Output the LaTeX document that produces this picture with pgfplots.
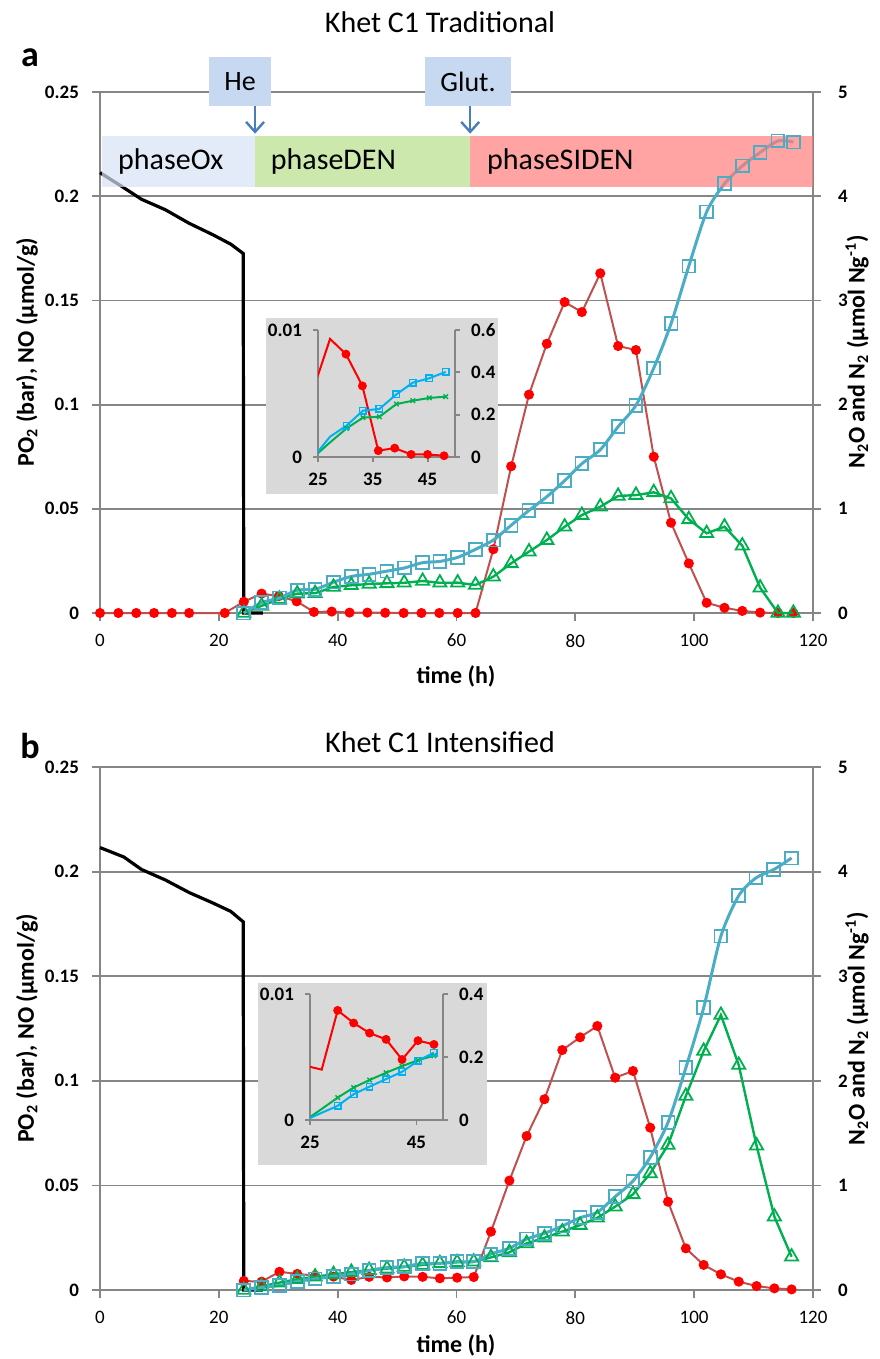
\documentclass[border=0pt]{standalone}
\usepackage{pgfplots}
\pgfplotsset{compat=1.18}
\usepackage{fontspec}
\setmainfont{Carlito}
\usetikzlibrary{arrows.meta}
\definecolor{axgray}{HTML}{868686}
\definecolor{redline}{HTML}{C0504D}
\definecolor{redmark}{HTML}{FF0000}
\definecolor{blueS}{HTML}{4BACC6}
\definecolor{greenT}{HTML}{00B050}
\definecolor{inblue}{HTML}{00B0F0}
\definecolor{ingray}{HTML}{D9D9D9}
\definecolor{boxblue}{HTML}{C6D9F1}
\definecolor{arrowblue}{HTML}{4A7EBB}
\definecolor{oxc}{RGB}{216,226,245}
\definecolor{denc}{RGB}{182,222,138}
\definecolor{sidenc}{RGB}{255,124,124}

\pgfplotsset{
  base/.style={scale only axis, clip=false, tick align=outside,
    scaled ticks=false,
    axis line style={-, axgray, line width=0.9pt},
    tick style={axgray, line width=0.9pt}, major tick length=4pt,
    ticklabel style={font=\fontsize{9.5}{10}\selectfont}},
  leftax/.style={base, axis x line*=bottom, axis y line*=left,
    ymajorgrids, grid style={axgray, line width=0.9pt},
    yticklabel style={font=\bfseries\fontsize{9.5}{10}\selectfont, xshift=-3pt},
    xticklabel style={yshift=-3pt},
    xmin=0, xmax=120, ymin=0, ymax=0.25,
    xtick={0,20,40,60,80,100,120}, xticklabels={0,20,40,60,80,100,120},
    ytick={0,0.05,0.1,0.15,0.2,0.25}, yticklabels={0,0.05,0.1,0.15,0.2,0.25}},
  rightax/.style={base, axis y line*=right, axis x line=none,
    yticklabel style={font=\bfseries\fontsize{9.5}{10}\selectfont, xshift=5pt},
    xmin=0, xmax=120, ymin=0, ymax=5, xtick=\empty,
    ytick={0,1,2,3,4,5}, yticklabels={0,1,2,3,4,5}},
  inleft/.style={base, clip=true, axis x line*=bottom, axis y line*=left,
    major tick length=2.5pt,
    ticklabel style={font=\bfseries\fontsize{9.5}{10}\selectfont},
    xticklabel style={yshift=-2pt}, yticklabel style={xshift=-2pt},
    xmin=25, xmax=50, ymin=0, ymax=0.01, ytick={0,0.01}, yticklabels={0,0.01}},
  inright/.style={base, clip=true, axis y line*=right, axis x line=none,
    major tick length=2.5pt,
    yticklabel style={font=\bfseries\fontsize{9.5}{10}\selectfont, xshift=2pt},
    xmin=25, xmax=50, ymin=0, xtick=\empty},
  redS/.style={redline, line width=1pt, mark=*, mark size=2pt, mark options={draw=redmark, fill=redmark}},
  blueL/.style={blueS, line width=1.5pt, smooth, tension=0.45, mark=square, mark size=3.2pt, mark options={blueS, line width=0.9pt, fill=none}},
  greenL/.style={greenT, line width=1.2pt, mark=triangle, mark size=3.8pt, mark options={greenT, line width=0.9pt, fill=none}},
  blackL/.style={black, line width=1.6pt, mark=none},
  inredS/.style={redmark, line width=1pt, mark=*, mark size=1.7pt, mark options={fill=redmark}},
  inblueS/.style={inblue, line width=1pt, mark=square, mark size=1.6pt, mark options={line width=0.7pt}},
  ingreenS/.style={greenT, line width=1pt, mark=x, mark size=1.6pt, mark options={line width=0.7pt}},
}

\begin{document}
\begin{tikzpicture}
\useasboundingbox (0,0) rectangle (439.5pt,-679.5pt);

% ================= PANEL A =================
\begin{axis}[leftax, at={(50pt,-306.5pt)}, anchor=south west, width=356.5pt, height=260.5pt]
\addplot[redS] coordinates {(0,0) (3.1,0) (6.1,0) (9.1,0) (12.1,0) (15,0) (21,0) (24.2,0.0054) (27.2,0.0093) (30.1,0.0081) (33.1,0.0056) (36,0.0005) (39,0.0007) (42,0.0002) (45,0.0002) (48,0.0001) (51.1,0) (54.1,0) (57.1,0) (60.2,0) (63.2,0) (66.2,0.0306) (69.2,0.0704) (72.2,0.1048) (75.2,0.1292) (78.2,0.1492) (81.1,0.1444) (84.2,0.163) (87.2,0.1281) (90.2,0.1262) (93.2,0.075) (96.1,0.0433) (99.1,0.0238) (102.1,0.0049) (105.1,0.0025) (108.1,0.001) (111.1,0.0002) (114.1,0) (116.7,0)};
\addplot[blackL] coordinates {(0,0.2113) (3.5,0.205) (7,0.1985) (11,0.1935) (15,0.187) (19,0.1815) (22,0.177) (24.1,0.1725) (24.2,0) (27.4,0)};
\end{axis}
\begin{axis}[rightax, at={(50pt,-306.5pt)}, anchor=south west, width=356.5pt, height=260.5pt]
\addplot[greenL] coordinates {(24.2,0) (27.2,0.069) (30.2,0.135) (33.2,0.186) (36.2,0.19) (39.3,0.25) (42.3,0.266) (45.3,0.279) (48.3,0.285) (51.2,0.29) (54.3,0.307) (57.2,0.29) (60.2,0.291) (63.2,0.269) (66.2,0.349) (69.2,0.477) (72.2,0.589) (75.2,0.70) (78.2,0.828) (81.1,0.94) (84.2,1.02) (87.2,1.123) (90.2,1.132) (93.2,1.158) (96.1,1.10) (99.1,0.899) (102.1,0.765) (105.1,0.828) (108.1,0.646) (111.1,0.243) (114.1,0) (116.7,0)};
\addplot[blueL] coordinates {(24.2,0) (27.2,0.10) (30.2,0.145) (33.2,0.219) (36.2,0.227) (39.3,0.296) (42.3,0.351) (45.3,0.372) (48.3,0.402) (51.2,0.432) (54.3,0.483) (57.2,0.495) (60.2,0.534) (63.2,0.611) (66.2,0.70) (69.2,0.842) (72.2,0.985) (75.2,1.116) (78.2,1.27) (81.1,1.433) (84.2,1.567) (87.2,1.788) (90.2,1.993) (93.2,2.351) (96.1,2.776) (99.1,3.33) (102.1,3.85) (105.1,4.12) (108.1,4.29) (111.1,4.42) (114.1,4.53) (116.7,4.52)};
% phase bars (semi-transparent overlay)
\fill[oxc, fill opacity=0.7] (axis cs:0.3,4.088) rectangle (axis cs:26.1,4.578);
\fill[denc, fill opacity=0.7] (axis cs:26.1,4.088) rectangle (axis cs:62.3,4.578);
\fill[sidenc, fill opacity=0.7] (axis cs:62.3,4.088) rectangle (axis cs:120,4.578);
\node[anchor=west, inner sep=0pt, font=\fontsize{15}{17}\selectfont] at (axis cs:3.0,4.333) {phaseOx};
\node[anchor=west, inner sep=0pt, font=\fontsize{15}{17}\selectfont] at (axis cs:28.7,4.333) {phaseDEN};
\node[anchor=west, inner sep=0pt, font=\fontsize{15}{17}\selectfont] at (axis cs:65.1,4.333) {phaseSIDEN};
% annotation boxes
\fill[boxblue] (axis cs:18.35,4.866) rectangle (axis cs:28.8,5.336);
\node[font=\fontsize{14}{16}\selectfont] at (axis cs:23.57,5.10) {He};
\fill[boxblue] (axis cs:54.7,4.866) rectangle (axis cs:69.2,5.336);
\node[font=\fontsize{14}{16}\selectfont] at (axis cs:61.95,5.10) {Glut.};
\draw[arrowblue, line width=1.2pt, -{Straight Barb[length=5pt,width=9pt]}] (axis cs:26.1,4.866) -- (axis cs:26.1,4.6);
\draw[arrowblue, line width=1.2pt, -{Straight Barb[length=5pt,width=9pt]}] (axis cs:62.3,4.866) -- (axis cs:62.3,4.6);
\end{axis}

% inset a
\fill[ingray] (133pt,-159pt) rectangle (249pt,-247pt);
\begin{axis}[inleft, at={(159pt,-228.5pt)}, anchor=south west, width=68.5pt, height=63.5pt,
  xtick={25,35,45}, xticklabels={25,35,45}]
\addplot[inredS, mark indices={2,3,4,5,6,7,8,9}] coordinates {(24.2,0.0054) (27.2,0.0093) (30.1,0.0081) (33.1,0.0056) (36,0.0005) (39,0.0007) (42,0.0002) (45,0.0002) (48,0.0001)};
\end{axis}
\begin{axis}[inright, at={(159pt,-228.5pt)}, anchor=south west, width=68.5pt, height=63.5pt,
  ymax=0.6, ytick={0,0.2,0.4,0.6}, yticklabels={0,0.2,0.4,0.6}]
\addplot[ingreenS, mark indices={2,3,4,5,6,7,8,9}] coordinates {(24.2,0) (27.2,0.069) (30.2,0.135) (33.2,0.186) (36.2,0.19) (39.3,0.25) (42.3,0.266) (45.3,0.279) (48.3,0.285)};
\addplot[inblueS, mark indices={2,3,4,5,6,7,8,9}] coordinates {(24.2,0) (27.2,0.096) (30.2,0.148) (33.2,0.219) (36.2,0.227) (39.3,0.296) (42.3,0.351) (45.3,0.372) (48.3,0.402)};
\end{axis}

% labels panel a
\node[font=\fontsize{15}{17}\selectfont] at (220pt,-11pt) {Khet C1 Traditional};
\node[font=\bfseries\fontsize{18}{20}\selectfont] at (15pt,-29pt) {a};
\node[rotate=90, font=\bfseries\fontsize{12}{14}\selectfont] at (13.5pt,-176pt) {PO\textsubscript{2} (bar), NO (µmol/g)};
\node[rotate=90, font=\bfseries\fontsize{12}{14}\selectfont] at (428.5pt,-176pt) {N\textsubscript{2}O and N\textsubscript{2} (µmol Ng\textsuperscript{-1})};
\node[font=\bfseries\fontsize{12}{14}\selectfont] at (228pt,-338pt) {time (h)};

% ================= PANEL B =================
\begin{axis}[leftax, at={(50pt,-645pt)}, anchor=south west, width=356.5pt, height=261.5pt]
\addplot[redS] coordinates {(24.2,0.0043) (27.2,0.0040) (30.2,0.0087) (33.2,0.0077) (36.2,0.0069) (39.3,0.0064) (42.3,0.0048) (45.3,0.0063) (48.3,0.0060) (51.2,0.0065) (54.3,0.0063) (57.2,0.0056) (60.1,0.0059) (62.9,0.0062) (65.8,0.0279) (68.9,0.0523) (71.8,0.0736) (74.8,0.0912) (77.8,0.1147) (80.8,0.1208) (83.7,0.1262) (86.7,0.1015) (89.7,0.1047) (92.6,0.0776) (95.6,0.0422) (98.6,0.0199) (101.6,0.012) (104.5,0.0075) (107.5,0.004) (110.5,0.0019) (113.5,0.0008) (116.4,0.0003)};
\addplot[blackL] coordinates {(0,0.2115) (4,0.207) (7,0.201) (11,0.196) (15,0.19) (19,0.185) (22,0.181) (24.1,0.176) (24.2,0) (27.4,0)};
\end{axis}
\begin{axis}[rightax, at={(50pt,-645pt)}, anchor=south west, width=356.5pt, height=261.5pt]
\addplot[greenL] coordinates {(24.2,0) (27.2,0.035) (30.2,0.071) (33.2,0.103) (36.2,0.127) (39.3,0.15) (42.3,0.171) (45.3,0.19) (48.3,0.204) (51.2,0.22) (54.3,0.24) (57.2,0.255) (60.1,0.265) (62.9,0.27) (65.8,0.312) (68.9,0.36) (71.8,0.446) (74.8,0.5) (77.8,0.558) (80.8,0.621) (83.7,0.691) (86.7,0.797) (89.7,0.915) (92.6,1.115) (95.6,1.386) (98.6,1.855) (101.6,2.285) (104.5,2.629) (107.5,2.151) (110.5,1.38) (113.5,0.701) (116.4,0.318)};
\addplot[blueL] coordinates {(24.2,0) (27.2,0.023) (30.2,0.045) (33.2,0.082) (36.2,0.106) (39.3,0.13) (42.3,0.153) (45.3,0.188) (48.3,0.214) (51.2,0.223) (54.3,0.255) (57.2,0.255) (60.1,0.271) (62.9,0.271) (65.8,0.344) (68.9,0.399) (71.8,0.488) (74.8,0.542) (77.8,0.612) (80.8,0.691) (83.7,0.743) (86.7,0.892) (89.7,1.042) (92.6,1.269) (95.6,1.603) (98.6,2.125) (101.6,2.699) (104.5,3.384) (107.5,3.77) (110.4,3.94) (113.4,4.02) (116.4,4.13)};
\end{axis}

% inset b
\fill[ingray] (129pt,-491.5pt) rectangle (243.5pt,-582.5pt);
\begin{axis}[inleft, at={(155pt,-560pt)}, anchor=south west, width=66.5pt, height=63pt,
  xtick={25,45}, xticklabels={25,45}]
\addplot[inredS, mark indices={2,3,4,5,6,7,8,9}] coordinates {(24.2,0.0043) (27.2,0.0040) (30.2,0.0087) (33.2,0.0077) (36.2,0.0069) (39.3,0.0064) (42.3,0.0048) (45.3,0.0063) (48.3,0.0060)};
\end{axis}
\begin{axis}[inright, at={(155pt,-560pt)}, anchor=south west, width=66.5pt, height=63pt,
  ymax=0.4, ytick={0,0.2,0.4}, yticklabels={0,0.2,0.4}]
\addplot[ingreenS, mark indices={2,3,4,5,6,7,8,9}] coordinates {(24.2,0) (27.2,0.035) (30.2,0.071) (33.2,0.103) (36.2,0.127) (39.3,0.15) (42.3,0.171) (45.3,0.19) (48.3,0.204)};
\addplot[inblueS, mark indices={2,3,4,5,6,7,8,9}] coordinates {(24.2,0) (27.2,0.023) (30.2,0.045) (33.2,0.082) (36.2,0.106) (39.3,0.13) (42.3,0.153) (45.3,0.188) (48.3,0.214)};
\end{axis}

% labels panel b
\node[font=\fontsize{15}{17}\selectfont] at (220pt,-371pt) {Khet C1 Intensified};
\node[font=\bfseries\fontsize{18}{20}\selectfont] at (15pt,-373pt) {b};
\node[rotate=90, font=\bfseries\fontsize{12}{14}\selectfont] at (13.5pt,-514.25pt) {PO\textsubscript{2} (bar), NO (µmol/g)};
\node[rotate=90, font=\bfseries\fontsize{12}{14}\selectfont] at (428.5pt,-514.25pt) {N\textsubscript{2}O and N\textsubscript{2} (µmol Ng\textsuperscript{-1})};
\node[font=\bfseries\fontsize{12}{14}\selectfont] at (228pt,-672.5pt) {time (h)};
\end{tikzpicture}
\end{document}
